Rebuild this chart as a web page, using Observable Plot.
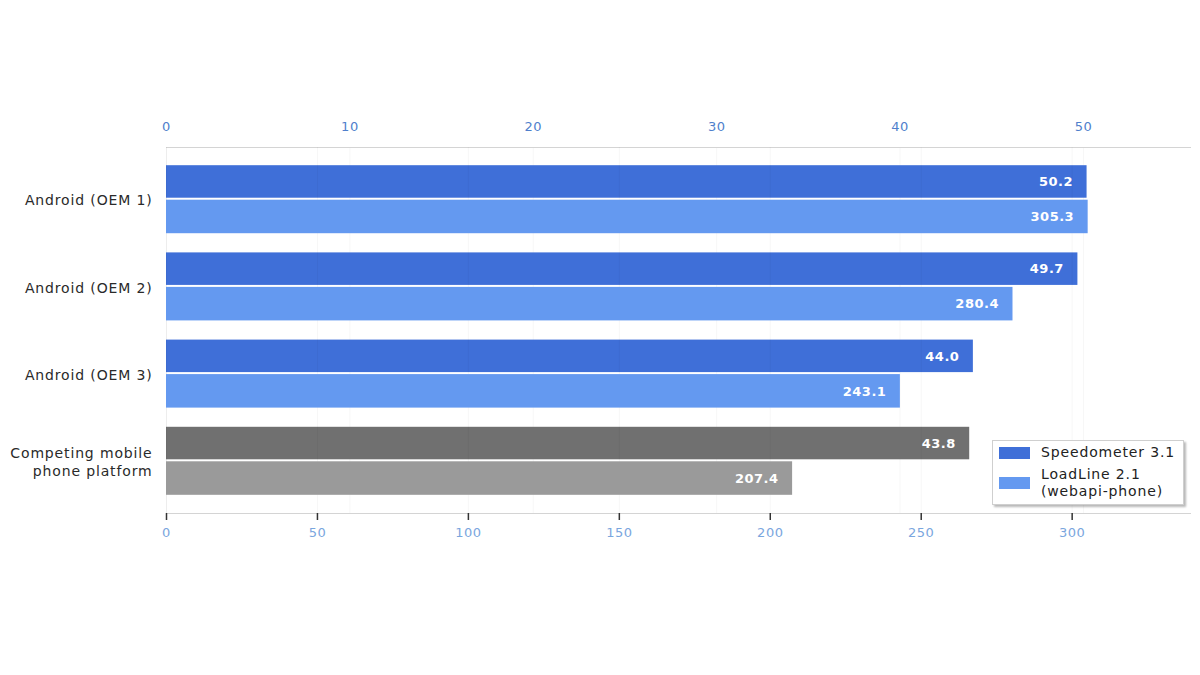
<!DOCTYPE html>
<html>
<head>
<meta charset="utf-8">
<script src="https://cdn.jsdelivr.net/npm/d3@7"></script>
<script src="https://cdn.jsdelivr.net/npm/@observablehq/plot@0.6"></script>
<style>
  html, body { margin: 0; padding: 0; background: #fff; }
  #wrap { position: relative; width: 1200px; height: 675px; font-family: "DejaVu Sans", sans-serif; }
  #wrap > svg { position: absolute; left: 0; top: 0; }
  #legend {
    position: absolute; left: 992px; top: 440px; width: 192px; height: 65px;
    background: #fff; border: 1px solid #cfcfcf; box-shadow: 2px 2px 2px rgba(0,0,0,0.28);
    font-size: 14px; letter-spacing: 0.85px; color: #222; box-sizing: border-box;
  }
  .item { position: absolute; left: 6px; display: flex; align-items: center; }
  .sw { width: 31px; height: 12px; margin-right: 11px; flex: none; }
  .lbl { line-height: 17px; white-space: nowrap; }
  .ylab text { letter-spacing: 0.85px; }
  .xlab text { letter-spacing: 0.5px; }
  .vlab text { letter-spacing: 0.5px; }
</style>
</head>
<body>
<div id="wrap"></div>
<script>
const categories = ["Android (OEM 1)", "Android (OEM 2)", "Android (OEM 3)", "Competing mobile\nphone platform"];
const speedometer = [50.2, 49.7, 44.0, 43.8];
const loadline = [305.3, 280.4, 243.1, 207.4];
const seriesNames = ["Speedometer 3.1", "LoadLine 2.1\n(webapi-phone)"];
const topTicks = [0, 10, 20, 30, 40, 50];
const bottomTicks = [0, 50, 100, 150, 200, 250, 300];

const competitor = categories[3];
const colors = {
  speed: "#3f6fd8", load: "#6499f0",
  speedGray: "#707070", loadGray: "#9a9a9a"
};

const speedData = categories.map((c, i) => ({cat: c, v: speedometer[i]}));
const loadData = categories.map((c, i) => ({cat: c, v: loadline[i]}));

const common = {
  width: 1200, height: 675,
  marginLeft: 166, marginRight: 10, marginTop: 147, marginBottom: 162,
  style: {fontFamily: "DejaVu Sans, sans-serif", fontSize: "13px", background: "transparent", overflow: "visible"}
};
const yScale = {type: "band", domain: categories, paddingInner: 0.22, paddingOuter: 0.2087, round: false};

const plotA = Plot.plot({
  ...common,
  x: {domain: [0, 55.84], ticks: topTicks, label: null},
  y: {...yScale, label: null},
  marks: [
    Plot.gridX(topTicks, {stroke: "#000", strokeOpacity: 0.035}),
    Plot.frame({anchor: "top", stroke: "#d4d4d4"}),
    Plot.axisX(topTicks, {anchor: "top", tickSize: 0, tickPadding: 17, fill: "#4f7fcc", label: null, className: "xlab"}),
    Plot.axisY({tickSize: 0, tickPadding: 14, fill: "#2a2a2a", label: null, lineHeight: 1.25, fontSize: 14, className: "ylab"}),
    Plot.barX(speedData, {
      x: "v", y: "cat", insetBottom: 35.5,
      fill: d => d.cat === competitor ? colors.speedGray : colors.speed
    }),
    Plot.text(speedData, {
      x: "v", y: "cat", text: d => d.v.toFixed(1), dy: -17.75, dx: -14,
      textAnchor: "end", fill: "white", fontWeight: "bold", fontSize: 13, className: "vlab"
    })
  ]
});

const plotB = Plot.plot({
  ...common,
  x: {domain: [0, 339.2], ticks: bottomTicks, label: null},
  y: {...yScale, axis: null, label: null},
  marks: [
    Plot.gridX(bottomTicks, {stroke: "#000", strokeOpacity: 0.035}),
    Plot.frame({anchor: "bottom", stroke: "#d4d4d4"}),
    Plot.axisX(bottomTicks, {anchor: "bottom", tickSize: 7, tickPadding: 7, stroke: "#333", strokeWidth: 1.5, fill: "#7aa6de", label: null, className: "xlab"}),
    Plot.barX(loadData, {
      x: "v", y: "cat", insetTop: 34.5,
      fill: d => d.cat === competitor ? colors.loadGray : colors.load
    }),
    Plot.text(loadData, {
      x: "v", y: "cat", text: d => d.v.toFixed(1), dy: 17.25, dx: -14,
      textAnchor: "end", fill: "white", fontWeight: "bold", fontSize: 13, className: "vlab"
    })
  ]
});

const wrap = document.getElementById("wrap");
wrap.appendChild(plotA);
wrap.appendChild(plotB);

const legend = document.createElement("div");
legend.id = "legend";
const items = [
  {name: seriesNames[0], color: colors.speed, top: 3},
  {name: seriesNames[1], color: colors.load, top: 25}
];
items.forEach(it => {
  const row = document.createElement("div");
  row.className = "item";
  row.style.top = it.top + "px";
  const sw = document.createElement("div");
  sw.className = "sw";
  sw.style.background = it.color;
  const lbl = document.createElement("div");
  lbl.className = "lbl";
  lbl.innerHTML = it.name.split("\n").join("<br>");
  row.appendChild(sw);
  row.appendChild(lbl);
  legend.appendChild(row);
});
wrap.appendChild(legend);
</script>
</body>
</html>
